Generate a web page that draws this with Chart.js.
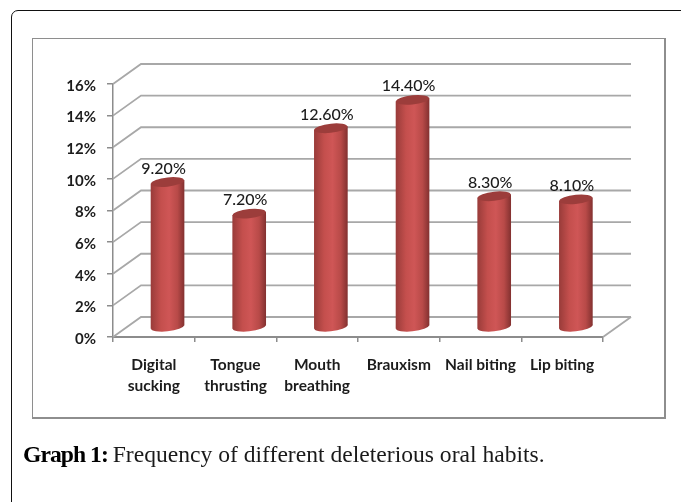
<!DOCTYPE html>
<html>
<head>
<meta charset="utf-8">
<script src="https://cdn.jsdelivr.net/npm/chart.js@4"></script>
<style>
html, body { margin: 0; padding: 0; background: #fff; overflow: hidden; }
#page { position: relative; width: 681px; height: 502px; overflow: hidden; }
#card { position: absolute; left: 11px; top: 10px; width: 700px; height: 600px; border: 1.5px solid #111; border-radius: 7px; box-sizing: border-box; }
#frame { position: absolute; left: 32px; top: 38px; width: 634px; height: 381px; border: 2px solid #8e8e8e; border-width: 1.5px 2px 2px 1.5px; box-sizing: border-box; }
#wrap { position: absolute; left: 0; top: 0; width: 681px; height: 502px; filter: blur(0.45px); }
#caption { position: absolute; left: 23px; top: 441px; font: 23.6px "Liberation Serif", serif; color: #1a1a1a; white-space: nowrap; }
#caption b { color: #000; letter-spacing: -0.95px; margin-right: -1px; }
</style>
</head>
<body>
<div id="page">
  <div id="card"></div>
  <div id="frame"></div>
  <div id="wrap"><canvas id="graph" width="681" height="502"></canvas></div>
  <div id="caption"><b>Graph 1:</b> Frequency of different deleterious oral habits.</div>
</div>
<script>
var categories = [['Digital', 'sucking'], ['Tongue', 'thrusting'], ['Mouth', 'breathing'], 'Brauxism', 'Nail biting', 'Lip biting'];
var frequencies = [9.2, 7.2, 12.6, 14.4, 8.3, 8.1];

// depth of the fake 3D box
var depthX = 28, depthY = -20;
var barX = 13.7, barY = -9.5, tilt = -0.1, capH = 4.6;
var gridColor = '#a8a8a8', axisColor = '#8c8c8c';

function barGradient(c) {
    var chart = c.chart;
    if (!chart.chartArea) return '#c0504d';
    var x = chart.scales.x.getPixelForValue(c.dataIndex);
    var g = chart.ctx.createLinearGradient(x - 16.5, 0, x + 16.5, 0);
    g.addColorStop(0, '#9a3c3a');
    g.addColorStop(0.3, '#c44f4d');
    g.addColorStop(0.55, '#cf5656');
    g.addColorStop(0.8, '#b84a48');
    g.addColorStop(1, '#853231');
    return g;
}

// back wall lines and the diagonals coming off the y axis
var backWall = {
    id: 'backWall',
    beforeDatasetsDraw: function(chart) {
        var ctx = chart.ctx, y = chart.scales.y, area = chart.chartArea;
        ctx.save();
        ctx.strokeStyle = gridColor;
        ctx.lineWidth = 1.8;
        y.ticks.forEach(function(t) {
            var py = y.getPixelForValue(t.value);
            ctx.beginPath();
            ctx.moveTo(area.left, py);
            ctx.lineTo(area.left + depthX, py + depthY);
            ctx.lineTo(area.right + depthX, py + depthY);
            ctx.stroke();
        });
        var py0 = y.getPixelForValue(0);
        ctx.beginPath();
        ctx.moveTo(area.right, py0);
        ctx.lineTo(area.right + depthX, py0 + depthY);
        ctx.stroke();
        ctx.restore();
    }
};

// draws the library's bars shifted and skewed, with round ends
var cylinders = {
    id: 'cylinders',
    beforeDatasetDraw: function(chart, args) {
        var ctx = chart.ctx;
        args.meta.data.forEach(function(bar, i) {
            ctx.save();
            ctx.translate(bar.x + barX, bar.base + barY);
            ctx.transform(1, tilt, 0, 1, 0, 0);
            ctx.translate(-bar.x, -bar.base);
            bar.draw(ctx);
            ctx.fillStyle = barGradient({ chart: chart, dataIndex: i });
            ctx.beginPath();
            ctx.ellipse(bar.x, bar.base, 16.5, capH, 0, 0, Math.PI * 2);
            ctx.fill();
            ctx.fillStyle = '#9c3d3b';
            ctx.beginPath();
            ctx.ellipse(bar.x, bar.y, 16.5, capH, 0, 0, Math.PI * 2);
            ctx.fill();
            ctx.restore();
        });
        return false;
    }
};

var valueLabels = {
    id: 'valueLabels',
    afterDatasetsDraw: function(chart) {
        var ctx = chart.ctx;
        ctx.save();
        ctx.font = '500 16px Lato';
        ctx.fillStyle = '#1c1c1c';
        ctx.textAlign = 'center';
        ctx.textBaseline = 'middle';
        chart.getDatasetMeta(0).data.forEach(function(bar) {
            ctx.fillText(frequencies[bar.$context.dataIndex].toFixed(2) + '%', bar.x + barX - 4, bar.y + barY - 13.5);
        });
        ctx.restore();
    }
};

var myChart = new Chart(document.getElementById('graph').getContext('2d'), {
    type: 'bar',
    data: {
        labels: categories,
        datasets: [{
            label: 'Frequency',
            data: frequencies,
            backgroundColor: barGradient,
            borderWidth: 0,
            barThickness: 33
        }]
    },
    plugins: [backWall, cylinders, valueLabels],
    options: {
        responsive: false,
        animation: false,
        layout: { padding: { top: 84, right: 78, bottom: 0, left: 0 } },
        plugins: { legend: { display: false }, tooltip: { enabled: false } },
        scales: {
            x: {
                afterFit: function(scale) { scale.height = 165; },
                border: { color: axisColor, width: 2 },
                grid: { color: axisColor, drawOnChartArea: false, tickLength: 5, lineWidth: 1.5, offset: true },
                ticks: {
                    autoSkip: false,
                    maxRotation: 0,
                    padding: 12,
                    color: '#1c1c1c',
                    font: { family: 'Lato', size: 15.5, weight: 'bold', lineHeight: 1.36 }
                }
            },
            y: {
                min: 0,
                max: 16,
                afterFit: function(scale) { scale.width = 113; },
                border: { color: axisColor, width: 1.5 },
                grid: { color: axisColor, drawOnChartArea: false, tickLength: 6, lineWidth: 1.5 },
                ticks: {
                    stepSize: 2,
                    padding: 11,
                    labelOffset: 2,
                    color: '#1c1c1c',
                    font: { family: 'Lato', size: 15, weight: 'bold' },
                    callback: function(v) { return v + '%'; }
                }
            }
        }
    }
});
</script>
</body>
</html>
